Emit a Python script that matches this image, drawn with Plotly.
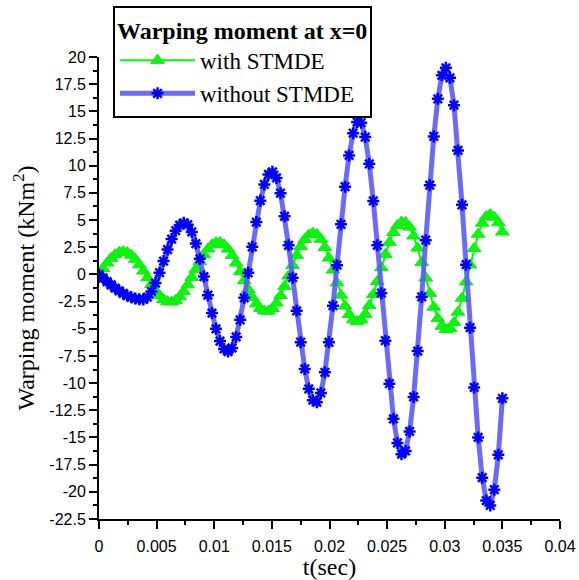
import plotly.graph_objects as go

# time samples (s)
t = [round(0.00035 * k, 5) for k in range(101)]

# Warping moment with STMDE (kNm^2)
with_stmde = [
    0.00, 0.54, 1.05, 1.48, 1.82, 2.03, 2.10, 2.02, 1.77, 1.39,
    0.88, 0.31, -0.31, -0.93, -1.49, -1.96, -2.31, -2.51, -2.54, -2.39,
    -2.06, -1.57, -0.96, -0.27, 0.46, 1.17, 1.81, 2.34, 2.72, 2.92,
    2.93, 2.73, 2.33, 1.75, 1.05, 0.25, -0.58, -1.38, -2.11, -2.71,
    -3.13, -3.36, -3.38, -3.13, -2.64, -1.95, -1.10, -0.15, 0.83, 1.76,
    2.57, 3.21, 3.63, 3.80, 3.68, 3.23, 2.48, 1.51, 0.40, -0.78,
    -1.91, -2.91, -3.68, -4.18, -4.35, -4.18, -3.67, -2.87, -1.84, -0.65,
    0.61, 1.84, 2.95, 3.86, 4.50, 4.82, 4.78, 4.35, 3.54, 2.42,
    1.09, -0.33, -1.74, -3.01, -4.05, -4.76, -5.08, -4.98, -4.43, -3.47,
    -2.19, -0.69, 0.87, 2.38, 3.70, 4.71, 5.33, 5.50, 5.26, 4.75,
    3.90,
]

# Warping moment without STMDE (kNm^2)
without_stmde = [
    0.00, -0.33, -0.66, -0.97, -1.26, -1.52, -1.75, -1.95, -2.11, -2.22,
    -2.28, -2.30, -2.09, -1.57, -0.80, 0.16, 1.23, 2.29, 3.25, 4.02,
    4.54, 4.75, 4.57, 3.91, 2.84, 1.43, -0.20, -1.91, -3.56, -5.01,
    -6.13, -6.85, -7.10, -6.76, -5.75, -4.18, -2.15, 0.15, 2.54, 4.81,
    6.78, 8.28, 9.20, 9.44, 8.87, 7.47, 5.35, 2.68, -0.30, -3.35,
    -6.23, -8.69, -10.52, -11.57, -11.76, -10.90, -9.01, -6.25, -2.88, 0.85,
    4.61, 8.07, 10.94, 12.99, 14.03, 13.96, 12.64, 10.17, 6.76, 2.68,
    -1.73, -6.10, -10.05, -13.28, -15.50, -16.54, -16.24, -14.44, -11.27, -7.05,
    -2.07, 3.15, 8.21, 12.69, 16.15, 18.31, 19.00, 18.08, 15.57, 11.40,
    6.40, 0.90, -4.90, -10.40, -15.00, -18.70, -20.80, -21.25, -19.80, -16.60,
    -11.40,
]

x_tick_vals = [0, 0.005, 0.01, 0.015, 0.02, 0.025, 0.03, 0.035, 0.04]
x_tick_text = ["0", "0.005", "0.01", "0.015", "0.02", "0.025", "0.03", "0.035", "0.04"]
y_tick_vals = [20, 17.5, 15, 12.5, 10, 7.5, 5, 2.5, 0, -2.5, -5, -7.5, -10,
               -12.5, -15, -17.5, -20, -22.5]
y_tick_text = ["20", "17.5", "15", "12.5", "10", "7.5", "5", "2.5", "0", "-2.5",
               "-5", "-7.5", "-10", "-12.5", "-15", "-17.5", "-20", "-22.5"]

fig = go.Figure()
fig.add_trace(go.Scatter(
    x=t, y=with_stmde, mode="lines+markers", name="with STMDE",
    line=dict(color="#00ff00", width=2),
    marker=dict(symbol="triangle-up", size=12, color="#00ff00",
                line=dict(color="#22dd22", width=1)),
))
fig.add_trace(go.Scatter(
    x=t, y=without_stmde, mode="lines+markers", name="without STMDE",
    line=dict(color="rgba(90,90,255,0.9)", width=5),
    marker=dict(symbol="asterisk-open", size=10, color="#0000ff",
                line=dict(color="#0000ff", width=2.5)),
))

serif = "Liberation Serif, Times New Roman, serif"
sans = "Liberation Sans, Arial, sans-serif"

fig.update_layout(
    width=579, height=580,
    margin=dict(l=99, r=19, t=57, b=61, autoexpand=False),
    paper_bgcolor="white", plot_bgcolor="white",
    showlegend=True,
    legend=dict(
        title=dict(text="<b>Warping moment at x=0</b>",
                   font=dict(family=serif, size=24, color="black")),
        font=dict(family=serif, size=23, color="black"),
        bordercolor="black", borderwidth=2, bgcolor="white",
        x=0.0304, xanchor="left", y=1.111, yanchor="top",
        itemwidth=75, tracegroupgap=0,
    ),
    xaxis=dict(
        range=[0, 0.04], showgrid=False, zeroline=False,
        showline=True, linecolor="black", linewidth=2,
        ticks="outside", ticklen=8, tickwidth=2, tickcolor="black",
        tickvals=x_tick_vals, ticktext=x_tick_text, ticklabelstandoff=4,
        tickfont=dict(family=sans, size=16, color="black"),
        minor=dict(dtick=0.0025, tick0=0, ticks="outside", ticklen=4,
                   tickwidth=2, tickcolor="black"),
        title=dict(text="t(sec)", font=dict(family=serif, size=24, color="black"),
                   standoff=5),
    ),
    yaxis=dict(
        range=[-22.5, 20], showgrid=False, zeroline=False,
        showline=True, linecolor="black", linewidth=2,
        ticks="outside", ticklen=8, tickwidth=2, tickcolor="black",
        tickvals=y_tick_vals, ticktext=y_tick_text,
        tickfont=dict(family=sans, size=16, color="black"),
        minor=dict(dtick=1.25, tick0=0, ticks="outside", ticklen=4,
                   tickwidth=2, tickcolor="black"),
        title=dict(text="Warping moment (kNm<sup>2</sup>)",
                   font=dict(family=serif, size=24, color="black"), standoff=8),
    ),
)

fig.write_html("out.html")
